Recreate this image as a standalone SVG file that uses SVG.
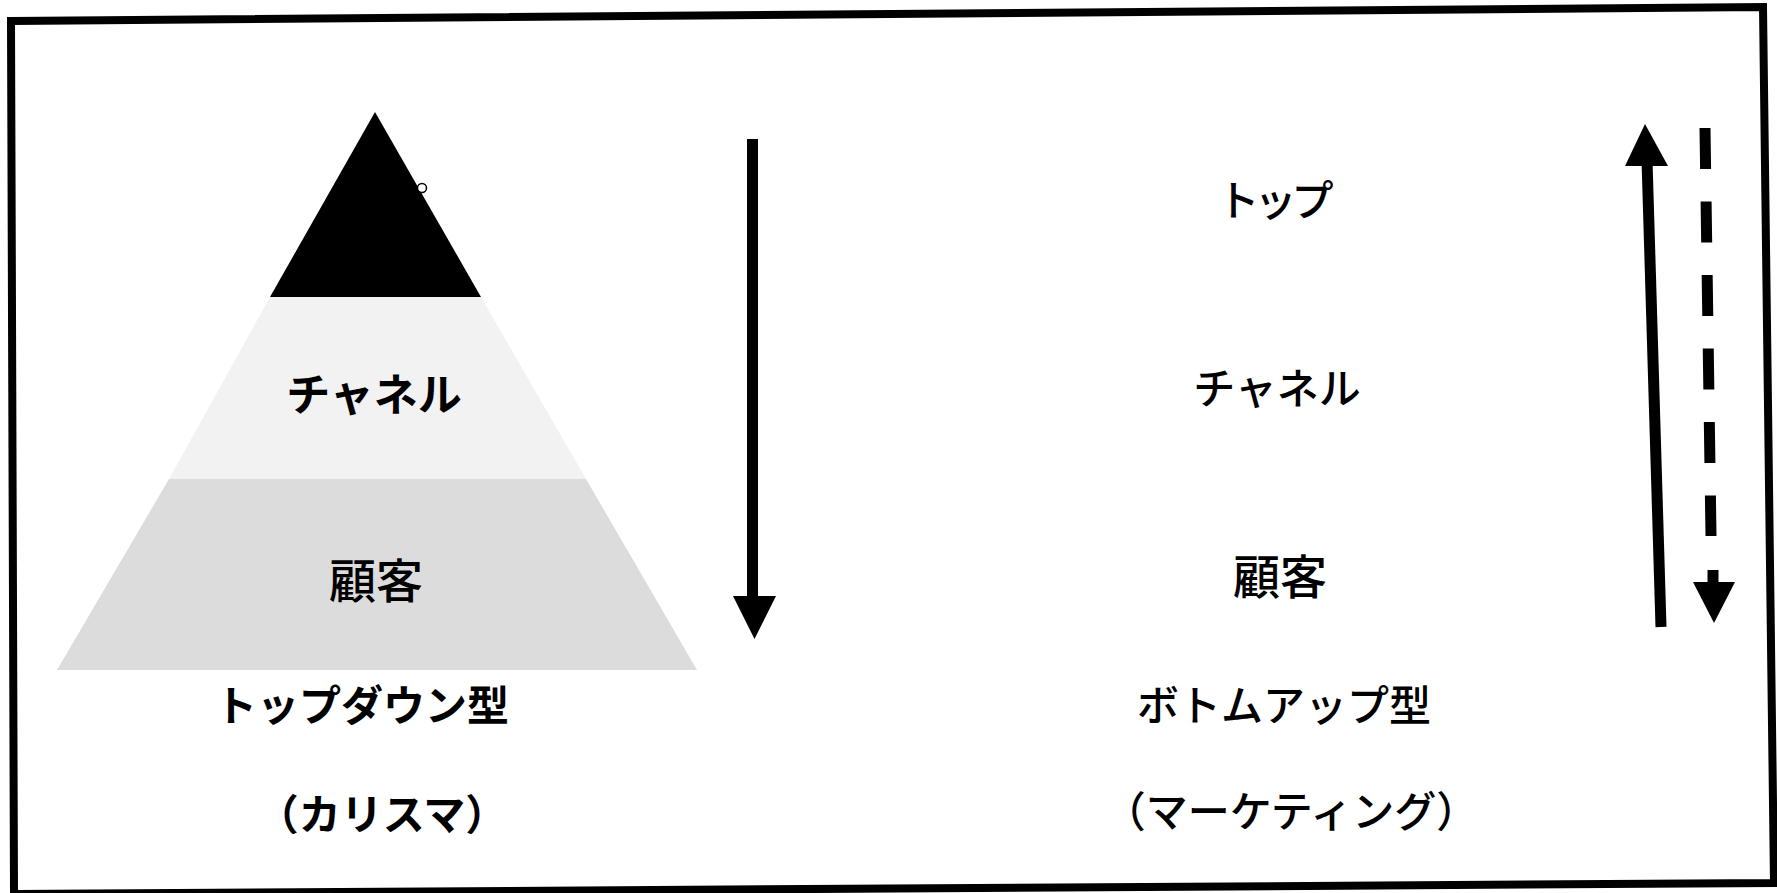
<svg xmlns="http://www.w3.org/2000/svg" width="1777" height="893" viewBox="0 0 1777 893">
<style>
.t{font-family:"Noto Sans CJK JP","Noto Sans CJK SC",sans-serif;fill:#000;text-anchor:middle}
.b{font-weight:700}
.r{font-weight:500}
.arr{stroke:#000;stroke-width:11;fill:none}
</style>
<rect width="1777" height="893" fill="#fff"/>
<g id="frame">
<polygon points="11,21 1763,7 1774,883 14,894" fill="none" stroke="#000" stroke-width="8" stroke-linejoin="miter"/>
</g>
<g id="pyramid">
<polygon id="tier-bottom" points="57,670 697,670 586,479 169,479" fill="#dcdcdc"/>
<polygon id="tier-middle" points="169,479 586,479 481,297 270,297" fill="#f2f2f2"/>
<polygon id="tier-top" points="270,297 481,297 375,112" fill="#000"/>
<circle cx="422" cy="188" r="4.5" fill="#fff" stroke="#000" stroke-width="1.5"/>
<text class="t b" x="374" y="411" font-size="44">チャネル</text>
<text class="t r" x="376" y="598" font-size="47">顧客</text>
</g>
<g id="left-labels">
<text class="t b" x="362" y="721" font-size="42">トップダウン型</text>
<text class="t b" x="382" y="830" font-size="42">（カリスマ）</text>
</g>
<g id="right-labels">
<text class="t r" x="1273" y="216" font-size="42" letter-spacing="-5">トップ</text>
<text class="t r" x="1277" y="404" font-size="42">チャネル</text>
<text class="t r" x="1280" y="594" font-size="47">顧客</text>
<text class="t r" x="1284" y="721" font-size="42">ボトムアップ型</text>
<text class="t r" x="1291" y="827" font-size="42">（マーケティング）</text>
</g>
<g id="connectors">
<g id="arrow-down-left">
<line class="arr" x1="752.5" y1="139" x2="752.5" y2="600"/>
<polygon points="733,596 776,596 754.5,639" fill="#000"/>
</g>
<g id="arrow-up-right">
<line class="arr" x1="1661" y1="627" x2="1647" y2="160"/>
<polygon points="1645,124 1625,166 1668,166" fill="#000"/>
</g>
<g id="arrow-down-dashed">
<line class="arr" x1="1705" y1="128" x2="1711" y2="536" stroke-dasharray="41 32.5"/>
<line class="arr" x1="1713" y1="570" x2="1713" y2="586"/>
<polygon points="1693,582 1735,582 1714,623" fill="#000"/>
</g>
</g>
</svg>
